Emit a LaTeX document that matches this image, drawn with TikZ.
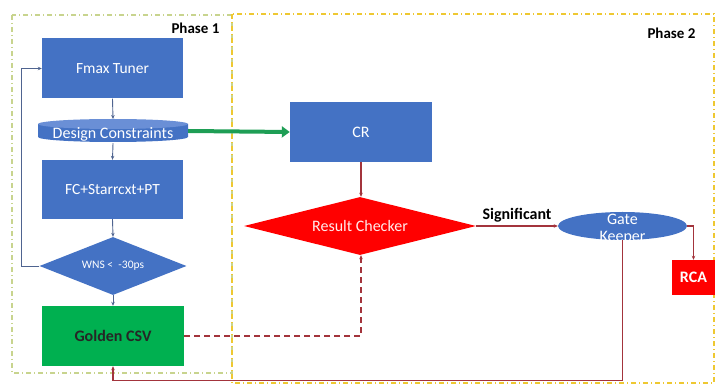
\documentclass[tikz,border=0pt]{standalone}
\usepackage{fontspec}
\setmainfont{Carlito}
\usetikzlibrary{shapes.geometric,arrows.meta,calc}
\pgfdeclarelayer{background}
\pgfsetlayers{background,main}
\definecolor{boxblue}{HTML}{4472C4}
\definecolor{topblue}{HTML}{6A8FD6}
\definecolor{csvgreen}{HTML}{00B050}
\definecolor{flowred}{HTML}{FF0000}
\definecolor{linkred}{HTML}{A3343C}
\definecolor{linkblue}{HTML}{4F6490}
\definecolor{arrowgreen}{HTML}{1E9E55}
\definecolor{phaseonecol}{HTML}{C8D48E}
\definecolor{phasetwocol}{HTML}{EEC832}
\tikzset{
  bluebox/.style={rectangle, fill=boxblue, text=white, minimum width=141pt, minimum height=60pt, inner sep=0pt, font=\fontsize{15.5}{18}\selectfont},
  bluelink/.style={draw=linkblue, line width=0.9pt, -{Stealth[length=4pt,width=3.5pt]}},
  redlink/.style={draw=linkred, line width=1.1pt, -{Stealth[length=4pt,width=3.5pt]}},
  phaselabel/.style={font=\bfseries\fontsize{15}{17}\selectfont, anchor=east},
  frameline/.style={line width=1.3pt, dash pattern=on 5pt off 3pt on 1pt off 3pt}
}
\begin{document}
\begin{tikzpicture}[x=1pt, y=-1pt]
\useasboundingbox (0,0) rectangle (716,387);
% phase frames
\draw[frameline, draw=phaseonecol] (12,15) rectangle (232,373);
\draw[frameline, draw=phasetwocol, line width=1.6pt] (232,14) rectangle (714,383);
\node[phaselabel] (p1) at (223,28) {Phase 1};
\node[phaselabel] (p2) at (699,33) {Phase 2};

% phase 1 flow
\node[bluebox] (fmax) at (112.5,68.5) {Fmax Tuner};
\node[minimum width=150pt, minimum height=24pt, inner sep=0pt, text=white,
      font=\fontsize{16}{18}\selectfont, text depth=0pt] (dc) at (113,131) {\raisebox{-3pt}{Design Constraints}};
\begin{pgfonlayer}{background}
  \fill[boxblue] (38,124) -- (38,137) arc[start angle=180, end angle=360, x radius=75pt, y radius=5pt] -- (188,124) -- cycle;
  \fill[topblue] (113,124) ellipse[x radius=75pt, y radius=5pt];
\end{pgfonlayer}
\node[bluebox, minimum height=59pt] (fc) at (112.5,189.5) {FC+Starrcxt+PT};
\node[diamond, fill=boxblue, minimum width=147pt, minimum height=58pt, inner sep=0pt,
      label={[text=white, font=\fontsize{11.5}{13}\selectfont]center:WNS <\ \ -30ps}] (wns) at (113,266) {};
\node[rectangle, fill=csvgreen, text=black!85, minimum width=142pt, minimum height=60pt, inner sep=0pt,
      font=\bfseries\fontsize{16}{18}\selectfont] (csv) at (113,336) {Golden CSV};

\draw[bluelink] (fmax.south) -- (dc.north |- 0,119);
\draw[bluelink] (dc.south) -- (fc.north);
\draw[bluelink] (fc.south) -- (wns.north);
\draw[bluelink] (wns.south) -- (csv.north);
\draw[bluelink] (wns.west) -- ++(-18,0) |- (fmax.west);

% phase 2 flow
\node[bluebox, minimum width=142pt, font=\fontsize{16}{18}\selectfont] (cr) at (361,132) {CR};
\node[diamond, fill=flowred, minimum width=232pt, minimum height=58pt, inner sep=0pt,
      label={[text=white!92!red, font=\fontsize{16}{18}\selectfont]center:Result Checker}] (rc) at (360,226) {};
\node[ellipse, fill=boxblue, minimum width=129pt, minimum height=28pt, inner sep=0pt,
      label={[text=white, align=center, font=\fontsize{16}{17}\selectfont, yshift=-3pt]center:Gate\\Keeper}] (gk) at (622.5,226) {};
\node[rectangle, fill=flowred, text=white, minimum width=43pt, minimum height=35pt, inner sep=0pt,
      font=\bfseries\fontsize{16}{18}\selectfont] (rca) at (693.5,277.5) {RCA};

\draw[line width=4pt, draw=arrowgreen, -{Triangle[length=8pt,width=11pt]}] (dc.east) -- (cr.west);
\draw[redlink] (cr.south) -- (cr.south |- rc.north);
\draw[redlink] (rc.east) -- node[above=0pt, font=\bfseries\fontsize{16}{18}\selectfont] (sig) {Significant} (gk.west);
\draw[redlink] (gk.east) -| (rca.north);
\draw[redlink] (gk.south) -- ++(0,140) -| (csv.south);
\draw[redlink, dash pattern=on 6pt off 4pt] (csv.east) -| (cr.south |- rc.south);
\end{tikzpicture}
\end{document}
